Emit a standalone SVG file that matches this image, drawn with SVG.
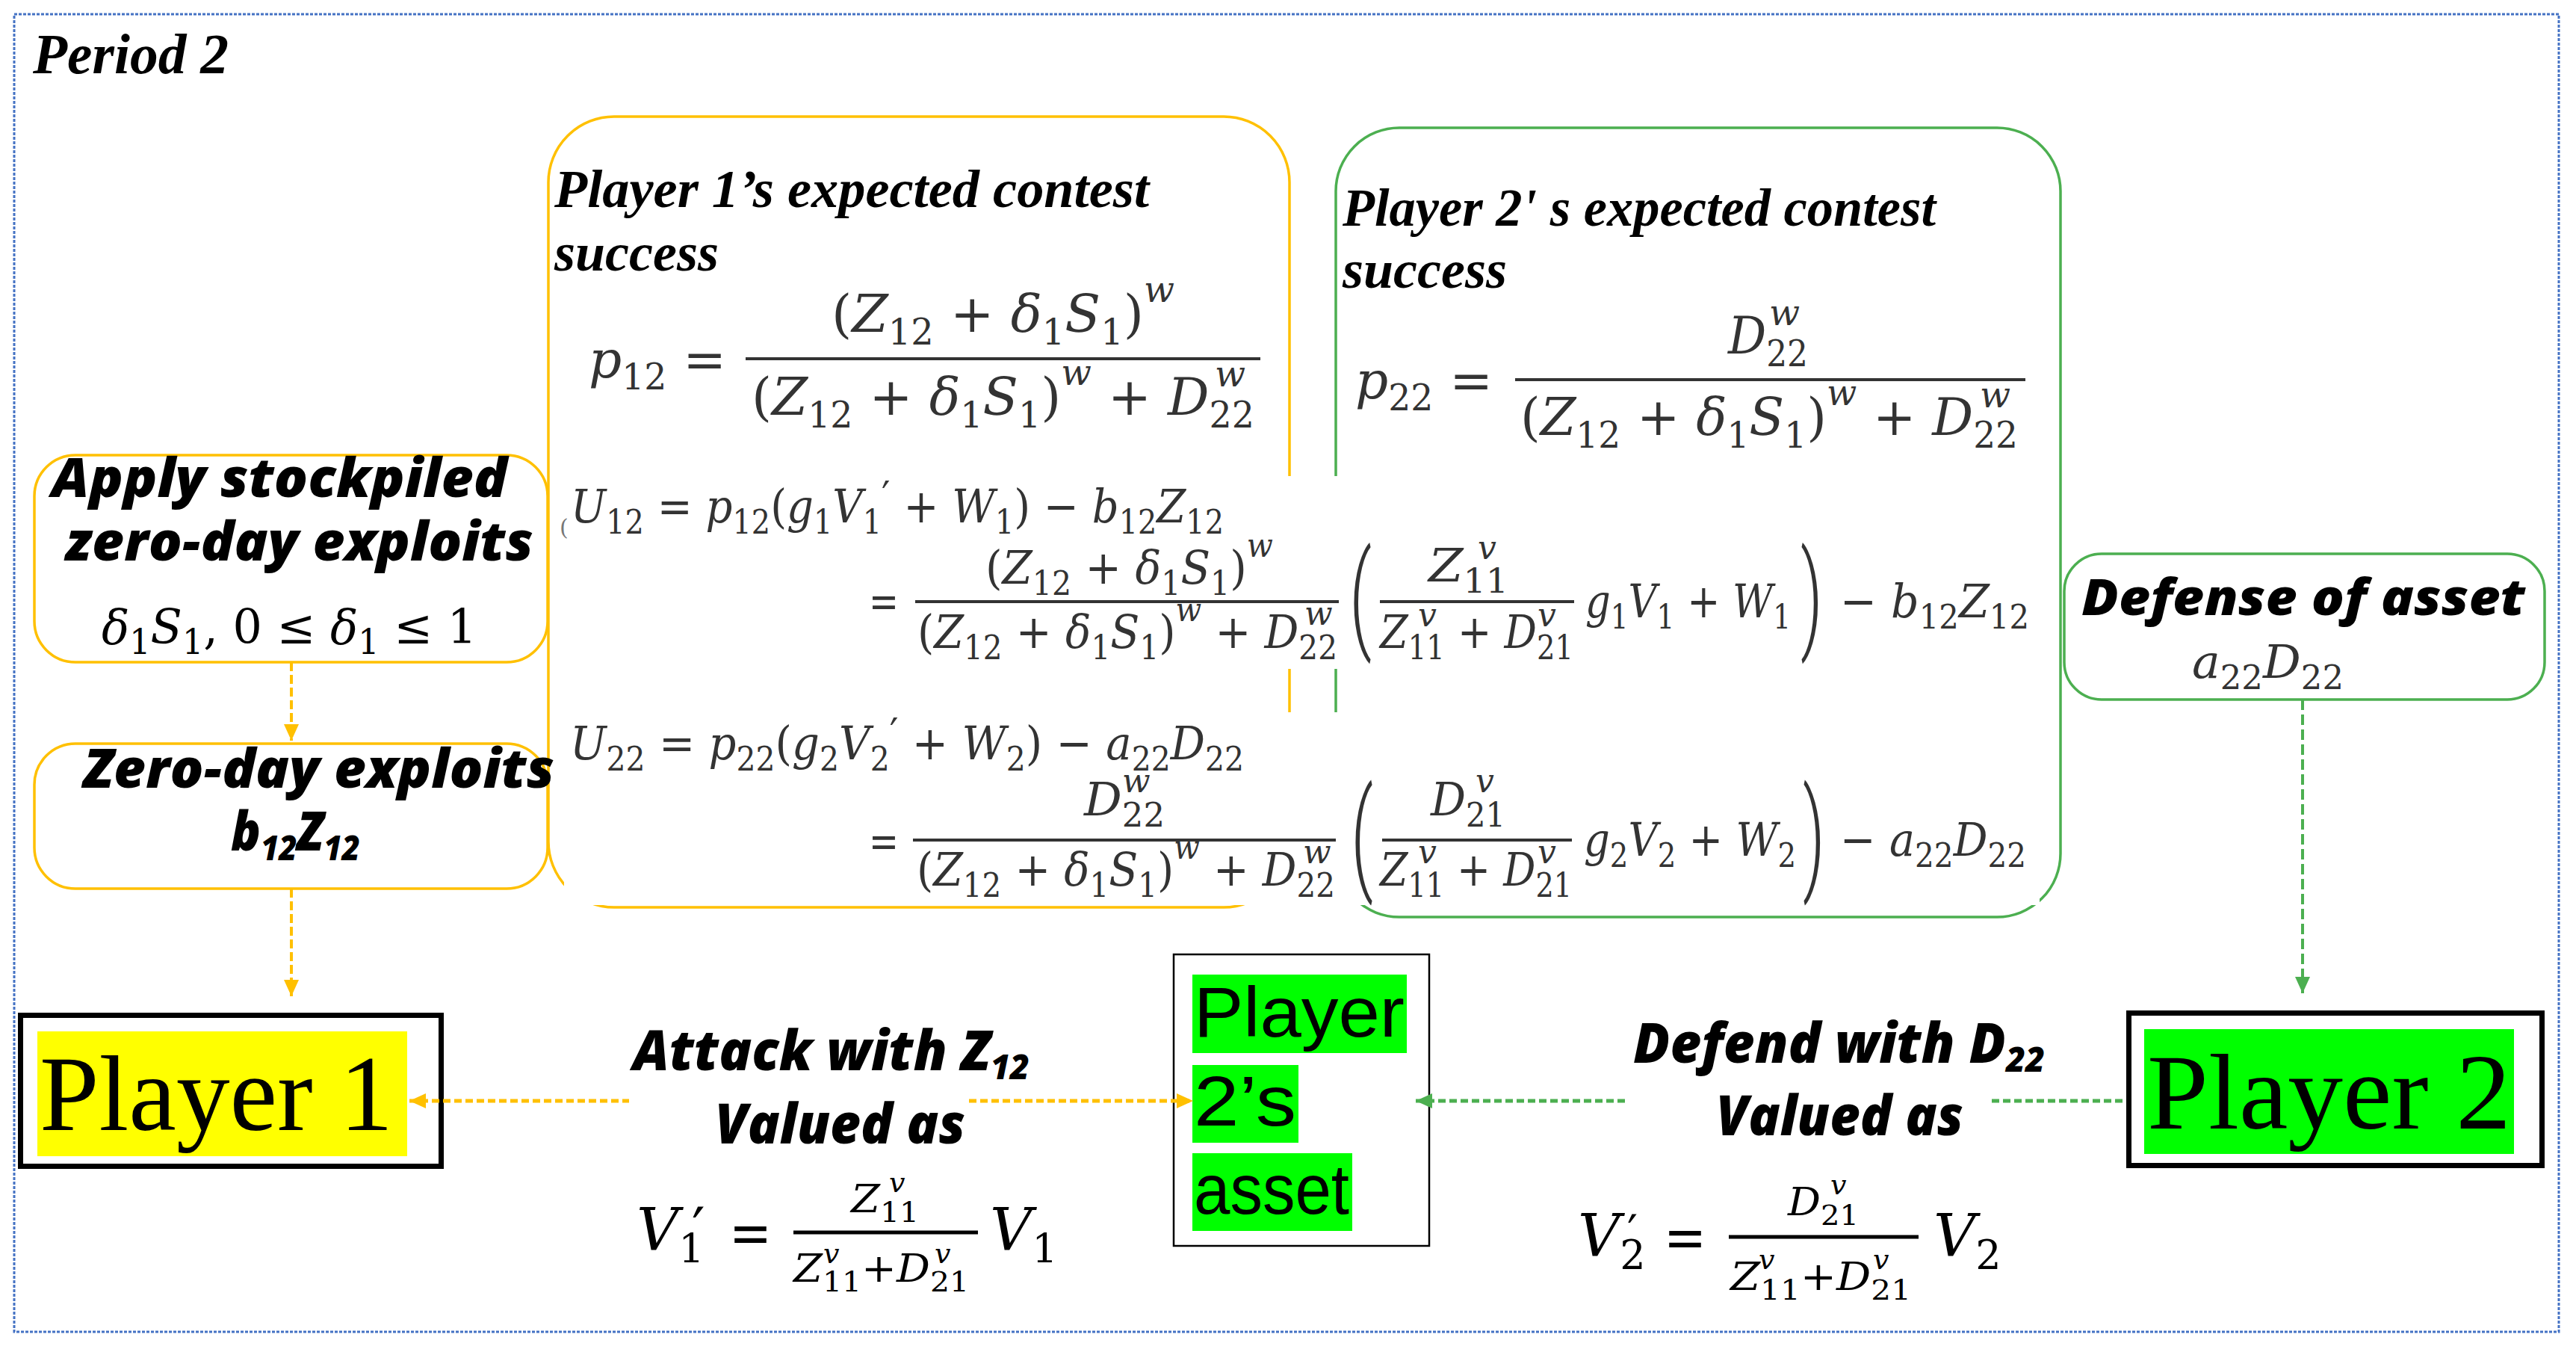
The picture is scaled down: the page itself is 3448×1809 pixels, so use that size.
<svg xmlns="http://www.w3.org/2000/svg" width="3448" height="1809" viewBox="0 0 3448 1809">
<style>
.by{fill:#fff;stroke:#FFC000;stroke-width:3.5}
.bg{fill:#fff;stroke:#4CAF50;stroke-width:3.5}
.mask{fill:#fff;stroke:none}
.lbl{font-family:"Open Sans","DejaVu Sans",sans-serif;font-weight:800;font-style:italic;fill:#000}
.ttl{font-family:"Liberation Serif","Times New Roman",serif;font-weight:bold;font-style:italic;fill:#000}
.m{font-family:"DejaVu Serif",serif;fill:#333}
.k{fill:#000}
.i{font-style:italic}
.bar{stroke:#333;stroke-width:4}
.bark{stroke:#000;stroke-width:5}
.bp{font-family:Roboto,"Liberation Sans",sans-serif;font-weight:300;fill:#333}
.cy{fill:none;stroke:#FFC000;stroke-width:4;stroke-dasharray:12 5}
.cyh{fill:none;stroke:#FFC000;stroke-width:5;stroke-dasharray:10 5}
.cg{fill:none;stroke:#4CAF50;stroke-width:4;stroke-dasharray:14 6}
.cgh{fill:none;stroke:#4CAF50;stroke-width:5;stroke-dasharray:10 5}
.big{font-family:"Liberation Serif","Times New Roman",serif;font-size:145px;fill:#000}
.asset{font-family:"Liberation Sans",Arial,sans-serif;font-size:94px;fill:#000}
</style>
<defs>
<marker id="ay" markerUnits="userSpaceOnUse" markerWidth="22" markerHeight="22" viewBox="0 0 22 22" refX="22" refY="11" orient="auto-start-reverse"><path d="M0,1 L22,11 L0,21 z" fill="#FFC000"/></marker>
<marker id="ag" markerUnits="userSpaceOnUse" markerWidth="22" markerHeight="22" viewBox="0 0 22 22" refX="22" refY="11" orient="auto-start-reverse"><path d="M0,1 L22,11 L0,21 z" fill="#4CAF50"/></marker>
</defs>
<rect width="3448" height="1809" fill="#fff"/>
<rect id="frame" x="19" y="19" width="3406" height="1763" fill="none" stroke="#4472C4" stroke-width="3" stroke-dasharray="4 2"/>
<text id="period" class="ttl" x="44" y="98" font-size="76" textLength="262" lengthAdjust="spacingAndGlyphs">Period 2</text>

<g id="n-p1-success">
<rect class="by" x="734" y="156" width="992" height="1058" rx="88"/>
<text class="ttl" x="742" y="277" font-size="72" textLength="796" lengthAdjust="spacingAndGlyphs">Player 1’s expected contest</text>
<text class="ttl" x="742" y="362" font-size="72">success</text>
<text class="m" x="788" y="505" font-size="70" textLength="184" lengthAdjust="spacingAndGlyphs"><tspan class="i">p</tspan><tspan font-size="48" dy="16">12</tspan><tspan dy="-16"> =</tspan></text>
<text class="m" x="1113" y="444" font-size="70" textLength="459" lengthAdjust="spacingAndGlyphs">(<tspan class="i">Z</tspan><tspan font-size="48" dy="17">12</tspan><tspan dy="-17"> + </tspan><tspan class="i">δ</tspan><tspan font-size="48" dy="17">1</tspan><tspan class="i" dy="-17">S</tspan><tspan font-size="48" dy="17">1</tspan><tspan dy="-17">)</tspan><tspan class="i" font-size="48" dy="-40">w</tspan></text>
<line class="bar" x1="998" y1="480" x2="1687" y2="480" stroke-width="5"/>
<text class="m" font-size="70"><tspan x="1006" y="555" textLength="673" lengthAdjust="spacingAndGlyphs">(<tspan class="i">Z</tspan><tspan font-size="48" dy="17">12</tspan><tspan dy="-17"> + </tspan><tspan class="i">δ</tspan><tspan font-size="48" dy="17">1</tspan><tspan class="i" dy="-17">S</tspan><tspan font-size="48" dy="17">1</tspan><tspan dy="-17">)</tspan><tspan class="i" font-size="48" dy="-40">w</tspan><tspan dy="40"> + </tspan><tspan class="i">D</tspan><tspan font-size="48" dy="17">22</tspan></tspan><tspan class="i" font-size="48" x="1626" y="517">w</tspan></text>
</g>

<g id="n-p2-success">
<rect class="bg" x="1788" y="171" width="970" height="1056" rx="85"/>
<text class="ttl" x="1797" y="302" font-size="72" textLength="794" lengthAdjust="spacingAndGlyphs">Player 2' s expected contest</text>
<text class="ttl" x="1797" y="385" font-size="72">success</text>
<text class="m" x="1814" y="533" font-size="70" textLength="184" lengthAdjust="spacingAndGlyphs"><tspan class="i">p</tspan><tspan font-size="48" dy="16">22</tspan><tspan dy="-16"> =</tspan></text>
<text class="m" font-size="70"><tspan x="2313" y="473" textLength="107" lengthAdjust="spacingAndGlyphs"><tspan class="i">D</tspan><tspan font-size="48" dy="17">22</tspan></tspan><tspan class="i" font-size="48" x="2368" y="435">w</tspan></text>
<line class="bar" x1="2028" y1="508" x2="2711" y2="508" stroke-width="5"/>
<text class="m" font-size="70"><tspan x="2035" y="582" textLength="666" lengthAdjust="spacingAndGlyphs">(<tspan class="i">Z</tspan><tspan font-size="48" dy="17">12</tspan><tspan dy="-17"> + </tspan><tspan class="i">δ</tspan><tspan font-size="48" dy="17">1</tspan><tspan class="i" dy="-17">S</tspan><tspan font-size="48" dy="17">1</tspan><tspan dy="-17">)</tspan><tspan class="i" font-size="48" dy="-40">w</tspan><tspan dy="40"> + </tspan><tspan class="i">D</tspan><tspan font-size="48" dy="17">22</tspan></tspan><tspan class="i" font-size="48" x="2650" y="545">w</tspan></text>
</g>

<g id="n-utility">
<rect class="mask" x="750" y="637" width="1980" height="258"/>
<rect class="mask" x="755" y="953" width="1975" height="258"/>
<text class="m" font-size="62"><tspan x="749" y="716" font-size="30" fill="#777">(</tspan><tspan x="764" y="699" textLength="874" lengthAdjust="spacingAndGlyphs"><tspan class="i">U</tspan><tspan font-size="44" dy="15">12</tspan><tspan dy="-15"> = </tspan><tspan class="i">p</tspan><tspan font-size="44" dy="15">12</tspan><tspan dy="-15">(</tspan><tspan class="i">g</tspan><tspan font-size="44" dy="15">1</tspan><tspan class="i" dy="-15">V</tspan><tspan font-size="44" dy="15">1</tspan><tspan font-size="56" dy="-30">′</tspan><tspan dy="15"> + </tspan><tspan class="i">W</tspan><tspan font-size="44" dy="15">1</tspan><tspan dy="-15">) − </tspan><tspan class="i">b</tspan><tspan font-size="44" dy="15">12</tspan><tspan class="i" dy="-15">Z</tspan><tspan font-size="44" dy="15">12</tspan></tspan></text>
<text class="m" x="1163" y="826" font-size="62" textLength="40" lengthAdjust="spacingAndGlyphs">=</text>
<text class="m" x="1319" y="781" font-size="62" textLength="385" lengthAdjust="spacingAndGlyphs">(<tspan class="i">Z</tspan><tspan font-size="44" dy="15">12</tspan><tspan dy="-15"> + </tspan><tspan class="i">δ</tspan><tspan font-size="44" dy="15">1</tspan><tspan class="i" dy="-15">S</tspan><tspan font-size="44" dy="15">1</tspan><tspan dy="-15">)</tspan><tspan class="i" font-size="44" dy="-36">w</tspan></text>
<line class="bar" x1="1225" y1="805" x2="1792" y2="805"/>
<text class="m" font-size="62"><tspan x="1228" y="867" textLength="562" lengthAdjust="spacingAndGlyphs">(<tspan class="i">Z</tspan><tspan font-size="44" dy="15">12</tspan><tspan dy="-15"> + </tspan><tspan class="i">δ</tspan><tspan font-size="44" dy="15">1</tspan><tspan class="i" dy="-15">S</tspan><tspan font-size="44" dy="15">1</tspan><tspan dy="-15">)</tspan><tspan class="i" font-size="44" dy="-36">w</tspan><tspan dy="36"> + </tspan><tspan class="i">D</tspan><tspan font-size="44" dy="15">22</tspan></tspan><tspan class="i" font-size="44" x="1746" y="836">w</tspan></text>
<text class="bp" x="1806" y="852" font-size="158" textLength="30" lengthAdjust="spacingAndGlyphs">(</text>
<text class="m" font-size="62"><tspan x="1912" y="778" textLength="107" lengthAdjust="spacingAndGlyphs"><tspan class="i">Z</tspan><tspan font-size="44" dy="15">11</tspan></tspan><tspan class="i" font-size="44" x="1978" y="748">v</tspan></text>
<line class="bar" x1="1847" y1="805" x2="2107" y2="805"/>
<text class="m" font-size="62"><tspan x="1847" y="867" textLength="259" lengthAdjust="spacingAndGlyphs"><tspan class="i">Z</tspan><tspan font-size="44" dy="15">11</tspan><tspan dy="-15"> + </tspan><tspan class="i">D</tspan><tspan font-size="44" dy="15">21</tspan></tspan><tspan class="i" font-size="44" x="1898" y="838">v</tspan><tspan class="i" font-size="44" x="2058" y="838">v</tspan></text>
<text class="m" x="2122" y="826" font-size="62" textLength="275" lengthAdjust="spacingAndGlyphs"><tspan class="i">g</tspan><tspan font-size="44" dy="15">1</tspan><tspan class="i" dy="-15">V</tspan><tspan font-size="44" dy="15">1</tspan><tspan dy="-15"> + </tspan><tspan class="i">W</tspan><tspan font-size="44" dy="15">1</tspan></text>
<text class="bp" x="2410" y="852" font-size="158" textLength="30" lengthAdjust="spacingAndGlyphs">)</text>
<text class="m" x="2463" y="826" font-size="62" textLength="253" lengthAdjust="spacingAndGlyphs">− <tspan class="i">b</tspan><tspan font-size="44" dy="15">12</tspan><tspan class="i" dy="-15">Z</tspan><tspan font-size="44" dy="15">12</tspan></text>

<text class="m" x="763" y="1016" font-size="62" textLength="902" lengthAdjust="spacingAndGlyphs"><tspan class="i">U</tspan><tspan font-size="44" dy="15">22</tspan><tspan dy="-15"> = </tspan><tspan class="i">p</tspan><tspan font-size="44" dy="15">22</tspan><tspan dy="-15">(</tspan><tspan class="i">g</tspan><tspan font-size="44" dy="15">2</tspan><tspan class="i" dy="-15">V</tspan><tspan font-size="44" dy="15">2</tspan><tspan font-size="56" dy="-30">′</tspan><tspan dy="15"> + </tspan><tspan class="i">W</tspan><tspan font-size="44" dy="15">2</tspan><tspan dy="-15">) − </tspan><tspan class="i">a</tspan><tspan font-size="44" dy="15">22</tspan><tspan class="i" dy="-15">D</tspan><tspan font-size="44" dy="15">22</tspan></text>
<text class="m" x="1163" y="1147" font-size="62" textLength="40" lengthAdjust="spacingAndGlyphs">=</text>
<text class="m" font-size="62"><tspan x="1451" y="1091" textLength="108" lengthAdjust="spacingAndGlyphs"><tspan class="i">D</tspan><tspan font-size="44" dy="15">22</tspan></tspan><tspan class="i" font-size="44" x="1502" y="1060">w</tspan></text>
<line class="bar" x1="1222" y1="1124" x2="1788" y2="1124"/>
<text class="m" font-size="62"><tspan x="1227" y="1185" textLength="560" lengthAdjust="spacingAndGlyphs">(<tspan class="i">Z</tspan><tspan font-size="44" dy="15">12</tspan><tspan dy="-15"> + </tspan><tspan class="i">δ</tspan><tspan font-size="44" dy="15">1</tspan><tspan class="i" dy="-15">S</tspan><tspan font-size="44" dy="15">1</tspan><tspan dy="-15">)</tspan><tspan class="i" font-size="44" dy="-36">w</tspan><tspan dy="36"> + </tspan><tspan class="i">D</tspan><tspan font-size="44" dy="15">22</tspan></tspan><tspan class="i" font-size="44" x="1744" y="1155">w</tspan></text>
<text class="bp" x="1808" y="1174" font-size="164" textLength="30" lengthAdjust="spacingAndGlyphs">(</text>
<text class="m" font-size="62"><tspan x="1915" y="1091" textLength="100" lengthAdjust="spacingAndGlyphs"><tspan class="i">D</tspan><tspan font-size="44" dy="15">21</tspan></tspan><tspan class="i" font-size="44" x="1975" y="1060">v</tspan></text>
<line class="bar" x1="1850" y1="1124" x2="2104" y2="1124"/>
<text class="m" font-size="62"><tspan x="1847" y="1185" textLength="257" lengthAdjust="spacingAndGlyphs"><tspan class="i">Z</tspan><tspan font-size="44" dy="15">11</tspan><tspan dy="-15"> + </tspan><tspan class="i">D</tspan><tspan font-size="44" dy="15">21</tspan></tspan><tspan class="i" font-size="44" x="1898" y="1155">v</tspan><tspan class="i" font-size="44" x="2058" y="1155">v</tspan></text>
<text class="m" x="2120" y="1145" font-size="62" textLength="284" lengthAdjust="spacingAndGlyphs"><tspan class="i">g</tspan><tspan font-size="44" dy="15">2</tspan><tspan class="i" dy="-15">V</tspan><tspan font-size="44" dy="15">2</tspan><tspan dy="-15"> + </tspan><tspan class="i">W</tspan><tspan font-size="44" dy="15">2</tspan></text>
<text class="bp" x="2413" y="1174" font-size="164" textLength="30" lengthAdjust="spacingAndGlyphs">)</text>
<text class="m" x="2463" y="1145" font-size="62" textLength="249" lengthAdjust="spacingAndGlyphs">− <tspan class="i">a</tspan><tspan font-size="44" dy="15">22</tspan><tspan class="i" dy="-15">D</tspan><tspan font-size="44" dy="15">22</tspan></text>
</g>

<g id="n-apply">
<rect class="by" x="46" y="609" width="687" height="277" rx="55"/>
<text class="lbl" font-size="72"><tspan x="69" y="665" textLength="610" lengthAdjust="spacingAndGlyphs">Apply stockpiled</tspan><tspan x="87" y="750" textLength="627" lengthAdjust="spacingAndGlyphs">zero-day exploits</tspan></text>
<text class="m k" x="136" y="861" font-size="64" textLength="502" lengthAdjust="spacingAndGlyphs"><tspan class="i">δ</tspan><tspan font-size="46" dy="14">1</tspan><tspan class="i" dy="-14">S</tspan><tspan font-size="46" dy="14">1</tspan><tspan dy="-14">, 0 ≤ </tspan><tspan class="i">δ</tspan><tspan font-size="46" dy="14">1</tspan><tspan dy="-14"> ≤ 1</tspan></text>
</g>

<g id="n-zeroday">
<rect class="by" x="46" y="995" width="687" height="194" rx="55"/>
<text class="lbl" x="112" y="1054" font-size="72" textLength="630" lengthAdjust="spacingAndGlyphs">Zero-day exploits</text>
<text class="lbl" x="309" y="1138" font-size="72" textLength="173" lengthAdjust="spacingAndGlyphs">b<tspan font-size="46" dy="13">12</tspan><tspan dy="-13">Z</tspan><tspan font-size="46" dy="13">12</tspan></text>
</g>

<g id="n-defense">
<rect class="bg" x="2763" y="741" width="643" height="195" rx="50"/>
<text class="lbl" x="2786" y="823" font-size="68" textLength="594" lengthAdjust="spacingAndGlyphs">Defense of asset</text>
<text class="m" x="2934" y="907" font-size="62" textLength="203" lengthAdjust="spacingAndGlyphs"><tspan class="i">a</tspan><tspan font-size="44" dy="15">22</tspan><tspan class="i" dy="-15">D</tspan><tspan font-size="44" dy="15">22</tspan></text>
</g>

<g id="n-player1">
<rect x="27.5" y="1358.5" width="563" height="202" fill="#fff" stroke="#000" stroke-width="7"/>
<rect x="50" y="1380" width="495" height="167" fill="#FFFF00"/>
<text class="big" x="53" y="1512" textLength="473" lengthAdjust="spacingAndGlyphs">Player 1</text>
</g>

<g id="n-player2">
<rect x="2849.5" y="1355.5" width="553" height="204" fill="#fff" stroke="#000" stroke-width="7"/>
<rect x="2870" y="1377" width="495" height="167" fill="#00FF00"/>
<text class="big" x="2874" y="1510" textLength="487" lengthAdjust="spacingAndGlyphs">Player 2</text>
</g>

<g id="n-asset">
<rect x="1571" y="1277" width="342" height="390" fill="#fff" stroke="#000" stroke-width="2.5"/>
<rect x="1596" y="1304" width="287" height="105" fill="#00FF00"/>
<rect x="1596" y="1425" width="142" height="104" fill="#00FF00"/>
<rect x="1596" y="1543" width="214" height="104" fill="#00FF00"/>
<text class="asset"><tspan x="1598" y="1387" textLength="282" lengthAdjust="spacingAndGlyphs">Player</tspan><tspan x="1598" y="1506" textLength="137" lengthAdjust="spacingAndGlyphs">2’s</tspan><tspan x="1598" y="1624" textLength="208" lengthAdjust="spacingAndGlyphs">asset</tspan></text>
</g>

<g id="connectors">
<path class="cy" d="M390,886 V991" marker-end="url(#ay)"/>
<path class="cy" d="M390,1189 V1333" marker-end="url(#ay)"/>
<path class="cg" d="M3082,936 V1329" marker-end="url(#ag)"/>
<path class="cyh" d="M548,1473 H842 M1297,1473 H1597" marker-start="url(#ay)" marker-end="url(#ay)"/>
<path class="cgh" d="M1895,1473 H2177 M2666,1473 H2846" marker-start="url(#ag)"/>
<g id="label-attack">
<text class="lbl" font-size="74"><tspan x="847" y="1432" textLength="531" lengthAdjust="spacingAndGlyphs">Attack with Z<tspan font-size="46" dy="12">12</tspan></tspan><tspan x="957" y="1530" textLength="335" lengthAdjust="spacingAndGlyphs">Valued as</tspan></text>
<text class="m k" font-size="78"><tspan class="i" x="852" y="1672">V</tspan><tspan font-size="54" dy="18">1</tspan><tspan x="926" y="1672">′</tspan><tspan x="976" y="1677" textLength="57" lengthAdjust="spacingAndGlyphs">=</tspan></text>
<text class="m k" font-size="52"><tspan x="1139" y="1622" textLength="91" lengthAdjust="spacingAndGlyphs"><tspan class="i">Z</tspan><tspan font-size="38" dy="13">11</tspan></tspan><tspan class="i" font-size="38" x="1190" y="1595">v</tspan></text>
<line class="bark" x1="1062" y1="1649" x2="1309" y2="1649"/>
<text class="m k" font-size="52"><tspan x="1062" y="1715" textLength="235" lengthAdjust="spacingAndGlyphs"><tspan class="i">Z</tspan><tspan font-size="38" dy="13">11</tspan><tspan dy="-13">+</tspan><tspan class="i">D</tspan><tspan font-size="38" dy="13">21</tspan></tspan><tspan class="i" font-size="38" x="1102" y="1690">v</tspan><tspan class="i" font-size="38" x="1251" y="1690">v</tspan></text>
<text class="m k" x="1325" y="1672" font-size="78"><tspan class="i">V</tspan><tspan font-size="54" dy="18">1</tspan></text>
</g>
<g id="label-defend">
<text class="lbl" font-size="74"><tspan x="2186" y="1422" textLength="551" lengthAdjust="spacingAndGlyphs">Defend with D<tspan font-size="46" dy="12">22</tspan></tspan><tspan x="2297" y="1519" textLength="331" lengthAdjust="spacingAndGlyphs">Valued as</tspan></text>
<text class="m k" font-size="78"><tspan class="i" x="2112" y="1680">V</tspan><tspan font-size="54" dy="18">2</tspan><tspan x="2178" y="1670" font-size="62">′</tspan><tspan x="2227" y="1683" textLength="57" lengthAdjust="spacingAndGlyphs">=</tspan></text>
<text class="m k" font-size="52"><tspan x="2393" y="1626" textLength="95" lengthAdjust="spacingAndGlyphs"><tspan class="i">D</tspan><tspan font-size="38" dy="13">21</tspan></tspan><tspan class="i" font-size="38" x="2450" y="1598">v</tspan></text>
<line class="bark" x1="2314" y1="1655" x2="2568" y2="1655"/>
<text class="m k" font-size="52"><tspan x="2316" y="1726" textLength="242" lengthAdjust="spacingAndGlyphs"><tspan class="i">Z</tspan><tspan font-size="38" dy="13">11</tspan><tspan dy="-13">+</tspan><tspan class="i">D</tspan><tspan font-size="38" dy="13">21</tspan></tspan><tspan class="i" font-size="38" x="2354" y="1698">v</tspan><tspan class="i" font-size="38" x="2507" y="1698">v</tspan></text>
<text class="m k" x="2588" y="1680" font-size="78"><tspan class="i">V</tspan><tspan font-size="54" dy="18">2</tspan></text>
</g>
</g>
</svg>
